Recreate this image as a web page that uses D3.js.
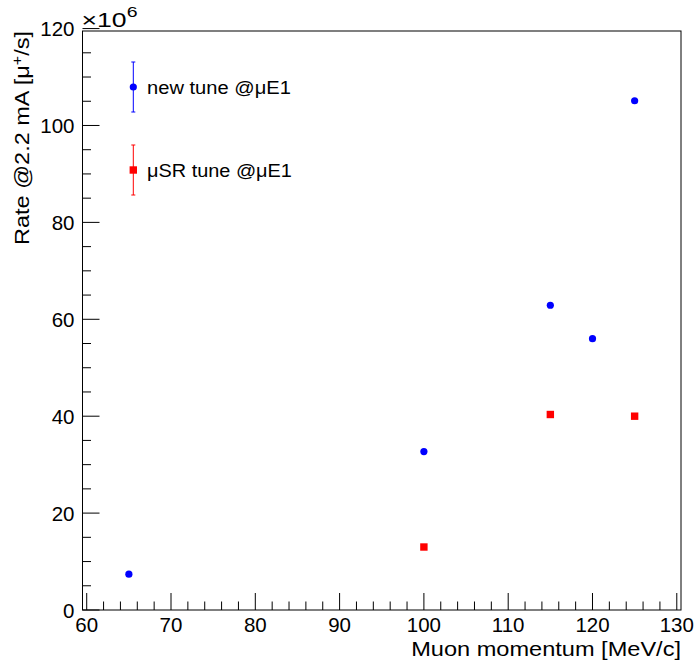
<!DOCTYPE html>
<html><head><meta charset="utf-8">
<script src="https://cdn.jsdelivr.net/npm/d3@7"></script>
<style>body{margin:0;background:#fff}svg{display:block}text{font-family:"Liberation Sans",Arial,Helvetica,sans-serif}</style>
</head><body>
<script>
const newTuneX = [65, 100, 115, 120, 125];
const newTuneY = [7.4, 32.7, 62.9, 56.0, 105.1];
const usrTuneX = [100, 115, 125];
const usrTuneY = [13.0, 40.35, 40.0];
const xTicks = [60, 70, 80, 90, 100, 110, 120, 130];
const yTicks = [0, 20, 40, 60, 80, 100, 120];
const legendLabels = ["new tune @\u03BCE1", "\u03BCSR tune @\u03BCE1"];

const W = 698, H = 666;
const svg = d3.select("body").append("svg").attr("width", W).attr("height", H);
const L = 82.5, R = 681, T = 31, B = 610;
const x = d3.scaleLinear().domain([59.5, 130.5]).range([L, R]);
const y = d3.scaleLinear().domain([0, 119.5]).range([B, T]);

// stretch a text horizontally (in its own frame) to a target width
function fitWidth(sel, base, target) {
  const w = sel.node().getBBox().width;
  sel.attr("transform", base + ` scale(${target / w},1)`);
}

// frame
svg.append("rect").attr("x", L).attr("y", T).attr("width", R - L).attr("height", B - T)
  .attr("fill", "none").attr("stroke", "#000").attr("stroke-width", 1);

// x axis ticks
const xMinor = d3.range(60, 130.01, 2);
svg.append("g").selectAll("line").data(xMinor).join("line")
  .attr("x1", d => x(d)).attr("x2", d => x(d))
  .attr("y1", B).attr("y2", d => B - (d % 10 === 0 ? 17 : 8.5))
  .attr("stroke", "#000").attr("stroke-width", 1);
svg.append("g").selectAll("text").data(xTicks).join("text")
  .attr("x", d => x(d)).attr("y", B + 21.5).attr("text-anchor", "middle")
  .attr("font-size", 20.5).text(d => d);

// y axis ticks
const yMinor = d3.range(0, 120.01, 5);
svg.append("g").selectAll("line").data(yMinor).join("line")
  .attr("x1", L).attr("x2", d => L + (d % 20 === 0 ? 17 : 8.5))
  .attr("y1", d => y(d)).attr("y2", d => y(d))
  .attr("stroke", "#000").attr("stroke-width", 1);
svg.append("g").selectAll("text").data(yTicks).join("text")
  .attr("x", L - 8).attr("y", d => y(d) + 7.5).attr("text-anchor", "end")
  .attr("font-size", 20.5).text(d => d);

// exponent
const ex = svg.append("text").attr("font-size", 20.5);
ex.append("tspan").text("\u00D710");
ex.append("tspan").attr("dy", -10).attr("font-size", 15).text("6");
fitWidth(ex, `translate(${L - 1},27)`, 56);

// axis titles
const xt = svg.append("text").attr("text-anchor", "end").attr("font-size", 21).text("Muon momentum [MeV/c]");
fitWidth(xt, `translate(${R},656)`, 270);
const yt = svg.append("text").attr("text-anchor", "end").attr("font-size", 20.5);
yt.append("tspan").text("Rate @2.2 mA [\u03BC");
yt.append("tspan").attr("dy", -7).attr("font-size", 14).text("+");
yt.append("tspan").attr("dy", 7).text("/s]");
fitWidth(yt, `translate(29,${T}) rotate(-90)`, 214);

// data
svg.append("g").selectAll("circle").data(newTuneX).join("circle")
  .attr("cx", d => x(d)).attr("cy", (d, i) => y(newTuneY[i])).attr("r", 3.6).attr("fill", "#0000ff");
svg.append("g").selectAll("rect").data(usrTuneX).join("rect")
  .attr("x", d => x(d) - 3.7).attr("y", (d, i) => y(usrTuneY[i]) - 3.7)
  .attr("width", 7.4).attr("height", 7.4).attr("fill", "#ff0000");

// legend
const lg = [{c: "#0000ff", cy: 87, y1: 62, y2: 112, shape: "circle", w: 144},
            {c: "#ff0000", cy: 170, y1: 145, y2: 195, shape: "square", w: 145}];
lg.forEach((e, i) => {
  const g = svg.append("g");
  g.append("line").attr("x1", 133.3).attr("x2", 133.3).attr("y1", e.y1).attr("y2", e.y2).attr("stroke", e.c).attr("stroke-width", 1);
  [e.y1, e.y2].forEach(yy => g.append("line").attr("x1", 131.3).attr("x2", 135.3).attr("y1", yy).attr("y2", yy).attr("stroke", e.c).attr("stroke-width", 1));
  if (e.shape === "circle") g.append("circle").attr("cx", 133.3).attr("cy", e.cy).attr("r", 3.6).attr("fill", e.c);
  else g.append("rect").attr("x", 133.3 - 3.7).attr("y", e.cy - 3.7).attr("width", 7.4).attr("height", 7.4).attr("fill", e.c);
  const t = g.append("text").attr("font-size", 18.5).text(legendLabels[i]);
  fitWidth(t, `translate(147,${e.cy + 7})`, e.w);
});
</script>
</body></html>
